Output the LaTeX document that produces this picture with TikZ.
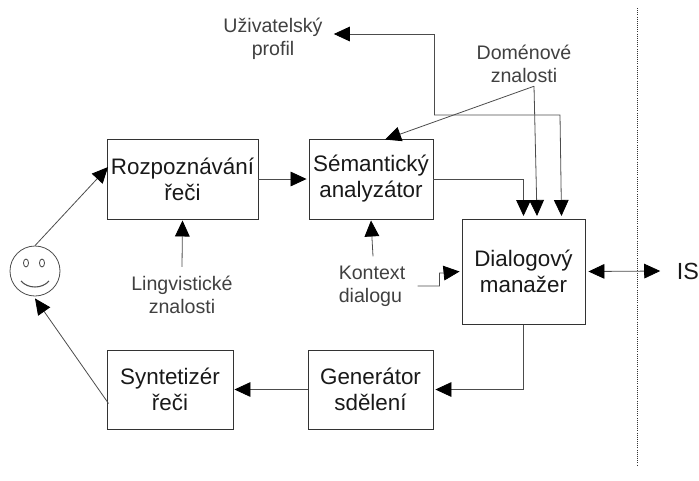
\documentclass[tikz,border=0pt]{standalone}
\usepackage{fontspec}
\setmainfont{Liberation Sans}
\usetikzlibrary{arrows.meta}
\tikzset{
  blok/.style={draw=black!80,line width=0.7pt,rectangle,inner sep=0pt,align=center,text=black!90,font=\fontsize{16.8}{19.5}\selectfont},
  popis/.style={inner sep=0pt,align=center,text=black!75,font=\fontsize{14.7}{17.5}\selectfont},
  spoj/.style={draw=black!70,line width=0.6pt,-{Triangle[black,length=12pt,width=11pt]}},
  obousmer/.style={draw=black!70,line width=0.6pt,{Triangle[black,length=12pt,width=11pt]}-{Triangle[black,length=12pt,width=11pt]}}
}
\begin{document}
\begin{tikzpicture}[x=0.75pt,y=-0.75pt]
                \useasboundingbox (0,0) rectangle (699,480);
                 \node[blok,minimum width=113.2pt,minimum height=60pt] (rozpoznavani) at (182.5,179) {Rozpoznávání\\řeči};
                 \node[blok,minimum width=93pt,minimum height=60pt] (analyzator) at (371,179) {Sémantický\\analyzátor};
                 \node[blok,minimum width=92.2pt,minimum height=78.8pt] (manazer) at (523.5,271.5) {Dialogový\\manažer};
                 \node[blok,minimum width=93.7pt,minimum height=59.2pt] (generator) at (370.5,389.5) {Generátor\\sdělení};
                 \node[blok,minimum width=94.5pt,minimum height=59.2pt] (syntetizer) at (170,389.5) {Syntetizér\\řeči};
                 \node[popis] (profil) at (273,39) {Uživatelský\\profil};
                 \node[popis] (domena) at (524,64) {Doménové\\znalosti};
                 \node[popis] (lingvistika) at (182,295) {Lingvistické\\znalosti};
                 \node[popis,align=left] (kontext) at (372,286) {Kontext\\dialogu};
                 \node[inner sep=0pt,font=\fontsize{17.5}{20}\selectfont,text=black!90] (is) at (688,271) {IS};
                 \node[draw=black!70,line width=0.6pt,circle,inner sep=0pt,minimum size=37.5pt] (hlava) at (35,271) {};
                 \coordinate (vetev) at (434,115);
                 \coordinate (vrch) at (637,8);
                 \coordinate (spodek) at (637,465);
                 \draw[black!75,line width=0.6pt] (26,263) ellipse (2.5 and 4);
                 \draw[black!75,line width=0.6pt] (42,263) ellipse (2.5 and 4);
                 \draw[black!70,line width=0.8pt] (21,281) .. controls (28,289) and (42,289) .. (49,281);
                 \draw[spoj] (hlava.north) -- ([shift={(1.5,-12)}]rozpoznavani.west);
                 \draw[spoj] ([shift={(2,14)}]syntetizer.west) -- ([shift={(0,2)}]hlava.south);
                 \draw[spoj] (rozpoznavani.east) -- ([shift={(-2,0)}]analyzator.west);
                 \draw[spoj] ([shift={(0,-9)}]lingvistika.north) -- ([shift={(0,1)}]rozpoznavani.south);
                 \draw[spoj] ([shift={(1,-9)}]kontext.north) -- ([shift={(0,1)}]analyzator.south);
                 \draw[spoj] (analyzator.east) -| ([shift={(0,-2.5)}]manazer.north);
                 \draw[spoj] ([shift={(10,3)}]domena.south) -- ([shift={(13.5,-2.5)}]manazer.north);
                 \draw[spoj] ([shift={(10,3)}]domena.south) -- ([shift={(14,1)}]analyzator.north);
                 \draw[spoj] (vetev) -- ++(126,0) -- ([shift={(38,-2.5)}]manazer.north);
                 \draw[spoj] (vetev) |- ([shift={(11,-5)}]profil.east);
                 \draw[spoj] ([shift={(12,0)}]kontext.east) -- ++(22,0) -- ++(0,-13) -- ++(5,0) -- ([shift={(-2,0)}]manazer.west);
                 \draw[spoj] (manazer.south) |- ([shift={(2,0)}]generator.east);
                 \draw[spoj] (generator.west) -- ([shift={(1,0)}]syntetizer.east);
                 \draw[obousmer] ([shift={(3,0)}]manazer.east) -- ([shift={(-16.5,0)}]is.west);
                 \draw[black!80,line width=0.6pt,densely dotted] (vrch) -- (spodek);
            \end{tikzpicture}
\end{document}
